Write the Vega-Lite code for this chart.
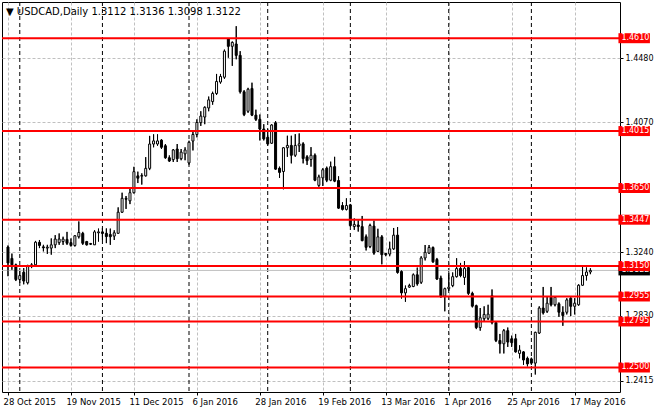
{
  "$schema": "https://vega.github.io/schema/vega-lite/v6.json",
  "width": 618,
  "height": 390,
  "autosize": "none",
  "padding": {"left": 2, "top": 2, "right": 40, "bottom": 18},
  "background": "white",
  "config": {
    "view": {"stroke": "black", "strokeWidth": 1},
    "font": "DejaVu Sans",
    "axis": {"labelFont": "DejaVu Sans", "labelFontSize": 8, "labelColor": "black"}
  },
  "title": {
    "text": "▼ USDCAD,Daily  1.3112 1.3136 1.3098 1.3122",
    "anchor": "start",
    "frame": "group",
    "orient": "top",
    "offset": -15,
    "baseline": "top",
    "dx": 4,
    "font": "DejaVu Sans",
    "fontSize": 10,
    "fontWeight": "normal",
    "color": "black"
  },
  "datasets": {
    "bars": [
      {"i":0,"o":1.3272,"h":1.3282,"l":1.3085,"c":1.3170},
      {"i":1,"o":1.3199,"h":1.3230,"l":1.3126,"c":1.3158},
      {"i":2,"o":1.3158,"h":1.3165,"l":1.3054,"c":1.3064},
      {"i":3,"o":1.3064,"h":1.3116,"l":1.3043,"c":1.3089},
      {"i":4,"o":1.3110,"h":1.3137,"l":1.3033,"c":1.3054},
      {"i":5,"o":1.3043,"h":1.3158,"l":1.3033,"c":1.3147},
      {"i":6,"o":1.3147,"h":1.3168,"l":1.3137,"c":1.3158},
      {"i":7,"o":1.3158,"h":1.3311,"l":1.3151,"c":1.3303},
      {"i":8,"o":1.3302,"h":1.3317,"l":1.3265,"c":1.3282},
      {"i":9,"o":1.3273,"h":1.3286,"l":1.3244,"c":1.3267},
      {"i":10,"o":1.3265,"h":1.3286,"l":1.3228,"c":1.3271},
      {"i":11,"o":1.3265,"h":1.3327,"l":1.3223,"c":1.3286},
      {"i":12,"o":1.3286,"h":1.3348,"l":1.3265,"c":1.3323},
      {"i":13,"o":1.3300,"h":1.3359,"l":1.3286,"c":1.3323},
      {"i":14,"o":1.3307,"h":1.3338,"l":1.3286,"c":1.3323},
      {"i":15,"o":1.3321,"h":1.3369,"l":1.3286,"c":1.3296},
      {"i":16,"o":1.3300,"h":1.3327,"l":1.3275,"c":1.3282},
      {"i":17,"o":1.3282,"h":1.3348,"l":1.3275,"c":1.3344},
      {"i":18,"o":1.3338,"h":1.3436,"l":1.3327,"c":1.3365},
      {"i":19,"o":1.3359,"h":1.3369,"l":1.3286,"c":1.3296},
      {"i":20,"o":1.3307,"h":1.3311,"l":1.3282,"c":1.3286},
      {"i":21,"o":1.3294,"h":1.3298,"l":1.3286,"c":1.3290},
      {"i":22,"o":1.3286,"h":1.3379,"l":1.3286,"c":1.3369},
      {"i":23,"o":1.3363,"h":1.3390,"l":1.3307,"c":1.3369},
      {"i":24,"o":1.3369,"h":1.3394,"l":1.3317,"c":1.3359},
      {"i":25,"o":1.3360,"h":1.3391,"l":1.3297,"c":1.3339},
      {"i":26,"o":1.3352,"h":1.3390,"l":1.3286,"c":1.3338},
      {"i":27,"o":1.3342,"h":1.3379,"l":1.3317,"c":1.3363},
      {"i":28,"o":1.3360,"h":1.3526,"l":1.3358,"c":1.3495},
      {"i":29,"o":1.3495,"h":1.3620,"l":1.3490,"c":1.3584},
      {"i":30,"o":1.3584,"h":1.3599,"l":1.3516,"c":1.3578},
      {"i":31,"o":1.3568,"h":1.3651,"l":1.3547,"c":1.3620},
      {"i":32,"o":1.3620,"h":1.3786,"l":1.3615,"c":1.3755},
      {"i":33,"o":1.3728,"h":1.3755,"l":1.3682,"c":1.3713},
      {"i":34,"o":1.3726,"h":1.3744,"l":1.3672,"c":1.3730},
      {"i":35,"o":1.3728,"h":1.3848,"l":1.3724,"c":1.3776},
      {"i":36,"o":1.3776,"h":1.3984,"l":1.3765,"c":1.3932},
      {"i":37,"o":1.3932,"h":1.3994,"l":1.3911,"c":1.3952},
      {"i":38,"o":1.3932,"h":1.3994,"l":1.3921,"c":1.3952},
      {"i":39,"o":1.3957,"h":1.3963,"l":1.3900,"c":1.3911},
      {"i":40,"o":1.3921,"h":1.3932,"l":1.3838,"c":1.3844},
      {"i":41,"o":1.3844,"h":1.3859,"l":1.3817,"c":1.3823},
      {"i":42,"o":1.3832,"h":1.3900,"l":1.3817,"c":1.3894},
      {"i":43,"o":1.3900,"h":1.3932,"l":1.3817,"c":1.3838},
      {"i":44,"o":1.3838,"h":1.3900,"l":1.3828,"c":1.3880},
      {"i":45,"o":1.3869,"h":1.3911,"l":1.3828,"c":1.3894},
      {"i":46,"o":1.3811,"h":1.3953,"l":1.3800,"c":1.3943},
      {"i":47,"o":1.3951,"h":1.4010,"l":1.3891,"c":1.3993},
      {"i":48,"o":1.3993,"h":1.4090,"l":1.3975,"c":1.4070},
      {"i":49,"o":1.4069,"h":1.4142,"l":1.4048,"c":1.4111},
      {"i":50,"o":1.4105,"h":1.4173,"l":1.4059,"c":1.4167},
      {"i":51,"o":1.4163,"h":1.4236,"l":1.4142,"c":1.4215},
      {"i":52,"o":1.4204,"h":1.4267,"l":1.4184,"c":1.4256},
      {"i":53,"o":1.4256,"h":1.4381,"l":1.4246,"c":1.4333},
      {"i":54,"o":1.4329,"h":1.4381,"l":1.4319,"c":1.4365},
      {"i":55,"o":1.4360,"h":1.4537,"l":1.4350,"c":1.4527},
      {"i":56,"o":1.4606,"h":1.4610,"l":1.4485,"c":1.4558},
      {"i":57,"o":1.4558,"h":1.4589,"l":1.4433,"c":1.4583},
      {"i":58,"o":1.4573,"h":1.4687,"l":1.4475,"c":1.4500},
      {"i":59,"o":1.4500,"h":1.4527,"l":1.4256,"c":1.4267},
      {"i":60,"o":1.4267,"h":1.4277,"l":1.4111,"c":1.4121},
      {"i":61,"o":1.4142,"h":1.4292,"l":1.4132,"c":1.4283},
      {"i":62,"o":1.4288,"h":1.4325,"l":1.4111,"c":1.4117},
      {"i":63,"o":1.4117,"h":1.4152,"l":1.4080,"c":1.4090},
      {"i":64,"o":1.4090,"h":1.4121,"l":1.3955,"c":1.4028},
      {"i":65,"o":1.4028,"h":1.4059,"l":1.3955,"c":1.3965},
      {"i":66,"o":1.3975,"h":1.4027,"l":1.3923,"c":1.3933},
      {"i":67,"o":1.3937,"h":1.4058,"l":1.3933,"c":1.4054},
      {"i":68,"o":1.4068,"h":1.4079,"l":1.3767,"c":1.3771},
      {"i":69,"o":1.3777,"h":1.3787,"l":1.3715,"c":1.3750},
      {"i":70,"o":1.3756,"h":1.3912,"l":1.3642,"c":1.3908},
      {"i":71,"o":1.3908,"h":1.3985,"l":1.3850,"c":1.3923},
      {"i":72,"o":1.3923,"h":1.3985,"l":1.3808,"c":1.3860},
      {"i":73,"o":1.3860,"h":1.3995,"l":1.3850,"c":1.3923},
      {"i":74,"o":1.3921,"h":1.4000,"l":1.3881,"c":1.3933},
      {"i":75,"o":1.3933,"h":1.3943,"l":1.3808,"c":1.3839},
      {"i":76,"o":1.3850,"h":1.3860,"l":1.3798,"c":1.3825},
      {"i":77,"o":1.3833,"h":1.3912,"l":1.3787,"c":1.3860},
      {"i":78,"o":1.3860,"h":1.3871,"l":1.3694,"c":1.3700},
      {"i":79,"o":1.3667,"h":1.3735,"l":1.3658,"c":1.3721},
      {"i":80,"o":1.3715,"h":1.3777,"l":1.3663,"c":1.3767},
      {"i":81,"o":1.3777,"h":1.3787,"l":1.3688,"c":1.3700},
      {"i":82,"o":1.3700,"h":1.3819,"l":1.3694,"c":1.3787},
      {"i":83,"o":1.3787,"h":1.3850,"l":1.3688,"c":1.3694},
      {"i":84,"o":1.3698,"h":1.3725,"l":1.3517,"c":1.3521},
      {"i":85,"o":1.3538,"h":1.3559,"l":1.3507,"c":1.3513},
      {"i":86,"o":1.3513,"h":1.3584,"l":1.3507,"c":1.3538},
      {"i":87,"o":1.3542,"h":1.3548,"l":1.3403,"c":1.3409},
      {"i":88,"o":1.3403,"h":1.3455,"l":1.3382,"c":1.3417},
      {"i":89,"o":1.3413,"h":1.3444,"l":1.3371,"c":1.3403},
      {"i":90,"o":1.3403,"h":1.3471,"l":1.3309,"c":1.3313},
      {"i":91,"o":1.3338,"h":1.3352,"l":1.3250,"c":1.3270},
      {"i":92,"o":1.3275,"h":1.3421,"l":1.3265,"c":1.3410},
      {"i":93,"o":1.3406,"h":1.3441,"l":1.3223,"c":1.3233},
      {"i":94,"o":1.3244,"h":1.3389,"l":1.3240,"c":1.3337},
      {"i":95,"o":1.3337,"h":1.3348,"l":1.3161,"c":1.3223},
      {"i":96,"o":1.3231,"h":1.3233,"l":1.3213,"c":1.3223},
      {"i":97,"o":1.3227,"h":1.3306,"l":1.3213,"c":1.3260},
      {"i":98,"o":1.3260,"h":1.3394,"l":1.3254,"c":1.3348},
      {"i":99,"o":1.3348,"h":1.3400,"l":1.3102,"c":1.3109},
      {"i":100,"o":1.3115,"h":1.3123,"l":1.2942,"c":1.2978},
      {"i":101,"o":1.2978,"h":1.3025,"l":1.2921,"c":1.3005},
      {"i":102,"o":1.3015,"h":1.3036,"l":1.3011,"c":1.3025},
      {"i":103,"o":1.3019,"h":1.3102,"l":1.3015,"c":1.3094},
      {"i":104,"o":1.3094,"h":1.3140,"l":1.3025,"c":1.3036},
      {"i":105,"o":1.3046,"h":1.3213,"l":1.3036,"c":1.3202},
      {"i":106,"o":1.3202,"h":1.3285,"l":1.3186,"c":1.3238},
      {"i":107,"o":1.3233,"h":1.3285,"l":1.3227,"c":1.3269},
      {"i":108,"o":1.3269,"h":1.3275,"l":1.3171,"c":1.3177},
      {"i":109,"o":1.3192,"h":1.3202,"l":1.3061,"c":1.3067},
      {"i":110,"o":1.3073,"h":1.3088,"l":1.2948,"c":1.2953},
      {"i":111,"o":1.2957,"h":1.3011,"l":1.2860,"c":1.3005},
      {"i":112,"o":1.3005,"h":1.3109,"l":1.2990,"c":1.3015},
      {"i":113,"o":1.3025,"h":1.3109,"l":1.3015,"c":1.3082},
      {"i":114,"o":1.3082,"h":1.3200,"l":1.3077,"c":1.3134},
      {"i":115,"o":1.3135,"h":1.3170,"l":1.3079,"c":1.3089},
      {"i":116,"o":1.3077,"h":1.3182,"l":1.3030,"c":1.3136},
      {"i":117,"o":1.3140,"h":1.3151,"l":1.2965,"c":1.2975},
      {"i":118,"o":1.2975,"h":1.2985,"l":1.2885,"c":1.2893},
      {"i":119,"o":1.2896,"h":1.2902,"l":1.2746,"c":1.2756},
      {"i":120,"o":1.2756,"h":1.2881,"l":1.2736,"c":1.2819},
      {"i":121,"o":1.2813,"h":1.2892,"l":1.2798,"c":1.2840},
      {"i":122,"o":1.2815,"h":1.2902,"l":1.2804,"c":1.2842},
      {"i":123,"o":1.2960,"h":1.3000,"l":1.2777,"c":1.2788},
      {"i":124,"o":1.2788,"h":1.2792,"l":1.2663,"c":1.2673},
      {"i":125,"o":1.2673,"h":1.2715,"l":1.2590,"c":1.2652},
      {"i":126,"o":1.2652,"h":1.2746,"l":1.2590,"c":1.2736},
      {"i":127,"o":1.2736,"h":1.2756,"l":1.2632,"c":1.2663},
      {"i":128,"o":1.2684,"h":1.2704,"l":1.2632,"c":1.2659},
      {"i":129,"o":1.2684,"h":1.2715,"l":1.2596,"c":1.2600},
      {"i":130,"o":1.2590,"h":1.2642,"l":1.2559,"c":1.2611},
      {"i":131,"o":1.2600,"h":1.2605,"l":1.2517,"c":1.2548},
      {"i":132,"o":1.2559,"h":1.2569,"l":1.2507,"c":1.2523},
      {"i":133,"o":1.2555,"h":1.2563,"l":1.2517,"c":1.2528},
      {"i":134,"o":1.2528,"h":1.2729,"l":1.2455,"c":1.2725},
      {"i":135,"o":1.2721,"h":1.2892,"l":1.2715,"c":1.2881},
      {"i":136,"o":1.2881,"h":1.3016,"l":1.2840,"c":1.2850},
      {"i":137,"o":1.2860,"h":1.2954,"l":1.2850,"c":1.2912},
      {"i":138,"o":1.2950,"h":1.3016,"l":1.2892,"c":1.2902},
      {"i":139,"o":1.2902,"h":1.2958,"l":1.2892,"c":1.2950},
      {"i":140,"o":1.2908,"h":1.2917,"l":1.2825,"c":1.2854},
      {"i":141,"o":1.2854,"h":1.2892,"l":1.2767,"c":1.2833},
      {"i":142,"o":1.2854,"h":1.2944,"l":1.2840,"c":1.2933},
      {"i":143,"o":1.2944,"h":1.2950,"l":1.2829,"c":1.2892},
      {"i":144,"o":1.2892,"h":1.2944,"l":1.2840,"c":1.2912},
      {"i":145,"o":1.2902,"h":1.3033,"l":1.2896,"c":1.3027},
      {"i":146,"o":1.3027,"h":1.3152,"l":1.3025,"c":1.3089},
      {"i":147,"o":1.3089,"h":1.3141,"l":1.3058,"c":1.3112},
      {"i":148,"o":1.3112,"h":1.3136,"l":1.3098,"c":1.3122}
    ],
    "months": [{"i":3},{"i":24},{"i":46},{"i":66},{"i":87},{"i":112},{"i":133}],
    "levels": [{"p":1.4610},{"p":1.4015},{"p":1.3650},{"p":1.3447},{"p":1.3150},{"p":1.2955},{"p":1.2795},{"p":1.2500}],
    "bid": [{"p":1.3122}]
  },
  "layer": [
    {
      "data": {"name": "bars"},
      "mark": {"type": "rule", "color": "black", "strokeWidth": 1},
      "encoding": {
        "x": {
          "field": "i", "type": "quantitative", "title": null,
          "scale": {"domain": [-0.25, 154.25], "nice": false, "zero": false},
          "axis": {
            "orient": "bottom",
            "values": [0,8,16,24,32,40,48,56,64,72,80,88,96,104,112,120,128,136,144,152],
            "labelExpr": "datum.value % 16 === 0 ? ['28 Oct 2015','19 Nov 2015','11 Dec 2015','6 Jan 2016','28 Jan 2016','19 Feb 2016','13 Mar 2016','1 Apr 2016','25 Apr 2016','17 May 2016'][datum.value / 16] : ''",
            "grid": true, "gridColor": "#C0C0C0", "gridDash": [3, 2], "gridWidth": 1,
            "domain": false,
            "tickSize": 3, "tickColor": "black",
            "tickOpacity": {"condition": {"test": "datum.value % 16 === 0", "value": 1}, "value": 0},
            "labelAlign": "left", "labelBaseline": "top", "labelPadding": 2, "labelOffset": -5,
            "labelOverlap": false, "labelFlush": false, "labelBound": false,
            "labelFont": "DejaVu Sans", "labelFontSize": 8.5, "labelColor": "black"
          }
        },
        "y": {
          "field": "l", "type": "quantitative", "title": null,
          "scale": {"domain": [1.2375, 1.4810], "nice": false, "zero": false},
          "axis": {
            "orient": "right",
            "values": [1.4685,1.4480,1.4275,1.4070,1.3860,1.3650,1.3447,1.3240,1.3035,1.2830,1.2620,1.2415],
            "labelExpr": "datum.value === 1.365 || datum.value === 1.3447 ? '' : format(datum.value, '.4f')",
            "grid": true, "gridColor": "#C0C0C0", "gridDash": [3, 2], "gridWidth": 1,
            "domain": false,
            "tickSize": 3, "tickColor": "black",
            "labelPadding": 2, "labelAlign": "left", "labelBaseline": "middle",
            "labelOverlap": false, "labelFlush": false,
            "labelFont": "DejaVu Sans", "labelFontSize": 8, "labelColor": "black"
          }
        },
        "y2": {"field": "h"}
      }
    },
    {
      "data": {"name": "months"},
      "mark": {"type": "rule", "color": "black", "strokeDash": [4, 3], "strokeWidth": 1},
      "encoding": {"x": {"field": "i", "type": "quantitative", "title": null}}
    },
    {
      "data": {"name": "bid"},
      "mark": {"type": "rule", "color": "#C0C0C0", "strokeWidth": 1},
      "encoding": {"y": {"field": "p", "type": "quantitative", "title": null}}
    },
    {
      "data": {"name": "bars"},
      "mark": {"type": "rule", "color": "black", "strokeWidth": 1},
      "encoding": {
        "x": {"field": "i", "type": "quantitative", "title": null},
        "y": {"field": "l", "type": "quantitative", "title": null},
        "y2": {"field": "h"}
      }
    },
    {
      "data": {"name": "bars"},
      "mark": {"type": "bar", "size": 2, "stroke": "black", "strokeWidth": 1, "orient": "vertical"},
      "encoding": {
        "x": {"field": "i", "type": "quantitative", "title": null},
        "y": {"field": "o", "type": "quantitative", "title": null},
        "y2": {"field": "c"},
        "fill": {"condition": {"test": "datum.c >= datum.o", "value": "white"}, "value": "black"}
      }
    },
    {
      "data": {"name": "levels"},
      "mark": {"type": "rule", "color": "#FF0000", "strokeWidth": 2},
      "encoding": {"y": {"field": "p", "type": "quantitative", "title": null}}
    },
    {
      "data": {"name": "bid"},
      "mark": {"type": "bar", "orient": "horizontal", "size": 10, "color": "black"},
      "encoding": {
        "x": {"datum": 155.125, "type": "quantitative"},
        "x2": {"datum": 163.125},
        "y": {"field": "p", "type": "quantitative", "title": null}
      }
    },
    {
      "data": {"name": "bid"},
      "mark": {"type": "text", "color": "white", "align": "left", "baseline": "middle", "font": "DejaVu Sans", "fontSize": 8},
      "encoding": {
        "x": {"datum": 155.875, "type": "quantitative"},
        "y": {"field": "p", "type": "quantitative", "title": null},
        "text": {"field": "p", "format": ".4f"}
      }
    },
    {
      "data": {"name": "levels"},
      "mark": {"type": "bar", "orient": "horizontal", "size": 10, "color": "#FF0000"},
      "encoding": {
        "x": {"datum": 155.125, "type": "quantitative"},
        "x2": {"datum": 163.125},
        "y": {"field": "p", "type": "quantitative", "title": null}
      }
    },
    {
      "data": {"name": "levels"},
      "mark": {"type": "text", "color": "white", "align": "left", "baseline": "middle", "font": "DejaVu Sans", "fontSize": 8},
      "encoding": {
        "x": {"datum": 155.875, "type": "quantitative"},
        "y": {"field": "p", "type": "quantitative", "title": null},
        "text": {"field": "p", "format": ".4f"}
      }
    }
  ]
}
